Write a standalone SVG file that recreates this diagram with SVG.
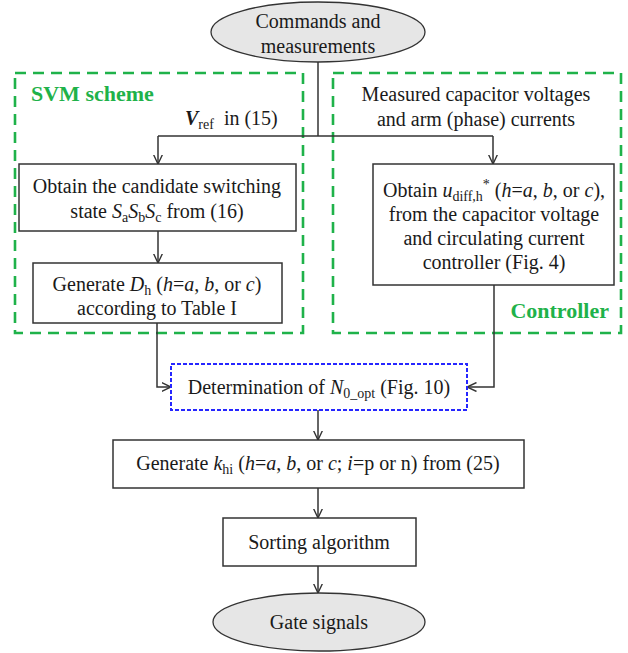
<svg xmlns="http://www.w3.org/2000/svg" width="628" height="653" viewBox="0 0 628 653" font-family="'Liberation Serif', 'DejaVu Serif', serif">
<defs>
<marker id="arr" viewBox="0 0 10 10" refX="9.5" refY="5" markerWidth="10" markerHeight="10" markerUnits="userSpaceOnUse" orient="auto">
<path d="M0,0.5 L9.5,5 L0,9.5" fill="none" stroke="#333" stroke-width="1.4"/>
</marker>
</defs>
<style>
text{font-family:'Liberation Serif','DejaVu Serif',serif;font-size:20px;fill:#1a1a1a}
.c{text-anchor:middle}
.box{fill:#fff;stroke:#333;stroke-width:1.5}
.ell{fill:#e6e6e6;stroke:#333;stroke-width:1.3}
.grp{fill:none;stroke:#1fb24a;stroke-width:2.6;stroke-dasharray:11 7}
.blue{fill:#fff;stroke:#2626ff;stroke-width:2;stroke-dasharray:4 2}
.lbl{font-weight:bold;font-size:22px;fill:#1fb24a}
.con{fill:none;stroke:#333;stroke-width:1.5}
.i{font-style:italic}
.s{font-size:14px}
</style>
<rect width="628" height="653" fill="#fff"/>
<g id="svm-group">
<rect class="grp" x="15" y="73" width="288" height="260"/>
<text class="lbl" x="31" y="101">SVM scheme</text>
</g>
<g id="controller-group">
<rect class="grp" x="333" y="73" width="288" height="260"/>
<text class="lbl" x="609" y="318" style="text-anchor:end">Controller</text>
</g>
<g id="connectors">
<path class="con" d="M318,62 V136"/>
<path class="con" d="M158,136 H493"/>
<path class="con" d="M158,136 V164" marker-end="url(#arr)"/>
<path class="con" d="M493,136 V164" marker-end="url(#arr)"/>
<path class="con" d="M158,231 V263" marker-end="url(#arr)"/>
<path class="con" d="M157,323 V387 H171" marker-end="url(#arr)"/>
<path class="con" d="M494,285 V387 H467" marker-end="url(#arr)"/>
<path class="con" d="M318,410 V440" marker-end="url(#arr)"/>
<path class="con" d="M318,488 V518" marker-end="url(#arr)"/>
<path class="con" d="M318,566 V593" marker-end="url(#arr)"/>
<text x="185" y="125"><tspan class="i" font-weight="bold">V</tspan><tspan class="s" dy="4">ref</tspan><tspan dy="-4" xml:space="preserve">  in (15)</tspan></text>
<text class="c" x="476" y="101">Measured capacitor voltages</text>
<text class="c" x="476" y="126">and arm (phase) currents</text>
</g>
<g id="commands">
<ellipse class="ell" cx="318" cy="32" rx="107" ry="30"/>
<text class="c" x="318" y="28">Commands and</text>
<text class="c" x="318" y="53">measurements</text>
</g>
<g id="obtain-state">
<rect class="box" x="19" y="164" width="277" height="67"/>
<text class="c" x="157" y="193">Obtain the candidate switching</text>
<text class="c" x="157" y="218">state <tspan class="i">S</tspan><tspan class="s" dy="4">a</tspan><tspan class="i" dy="-4">S</tspan><tspan class="s" dy="4">b</tspan><tspan class="i" dy="-4">S</tspan><tspan class="s" dy="4">c</tspan><tspan dy="-4"> from (16)</tspan></text>
</g>
<g id="generate-d">
<rect class="box" x="33" y="263" width="249" height="60"/>
<text class="c" x="157" y="291">Generate <tspan class="i">D</tspan><tspan class="s" dy="4">h</tspan><tspan dy="-4"> (</tspan><tspan class="i">h</tspan>=<tspan class="i">a</tspan>, <tspan class="i">b</tspan>, or <tspan class="i">c</tspan>)</text>
<text class="c" x="157" y="315">according to Table I</text>
</g>
<g id="obtain-udiff">
<rect class="box" x="373" y="164" width="241" height="121"/>
<text class="c" x="494" y="197">Obtain <tspan class="i">u</tspan><tspan class="s" dy="4">diff,h</tspan><tspan class="s" dy="-12">*</tspan><tspan dy="8"> (</tspan><tspan class="i">h</tspan>=<tspan class="i">a</tspan>, <tspan class="i">b</tspan>, or <tspan class="i">c</tspan>),</text>
<text class="c" x="494" y="221">from the capacitor voltage</text>
<text class="c" x="494" y="245">and circulating current</text>
<text class="c" x="494" y="269">controller (Fig. 4)</text>
</g>
<g id="determination">
<rect class="blue" x="171" y="364" width="296" height="46"/>
<text class="c" x="319" y="394">Determination of <tspan class="i">N</tspan><tspan class="s" dy="4">0_opt</tspan><tspan dy="-4"> (Fig. 10)</tspan></text>
</g>
<g id="generate-k">
<rect class="box" x="113" y="440" width="411" height="48"/>
<text class="c" x="318" y="470">Generate <tspan class="i">k</tspan><tspan class="s" dy="4">hi</tspan><tspan dy="-4"> (</tspan><tspan class="i">h</tspan>=<tspan class="i">a</tspan>, <tspan class="i">b</tspan>, or <tspan class="i">c</tspan>; <tspan class="i">i</tspan>=p or n) from (25)</text>
</g>
<g id="sorting">
<rect class="box" x="223" y="518" width="193" height="48"/>
<text class="c" x="319" y="549">Sorting algorithm</text>
</g>
<g id="gate">
<ellipse class="ell" cx="319" cy="622" rx="106" ry="29"/>
<text class="c" x="319" y="629">Gate signals</text>
</g>
</svg>
